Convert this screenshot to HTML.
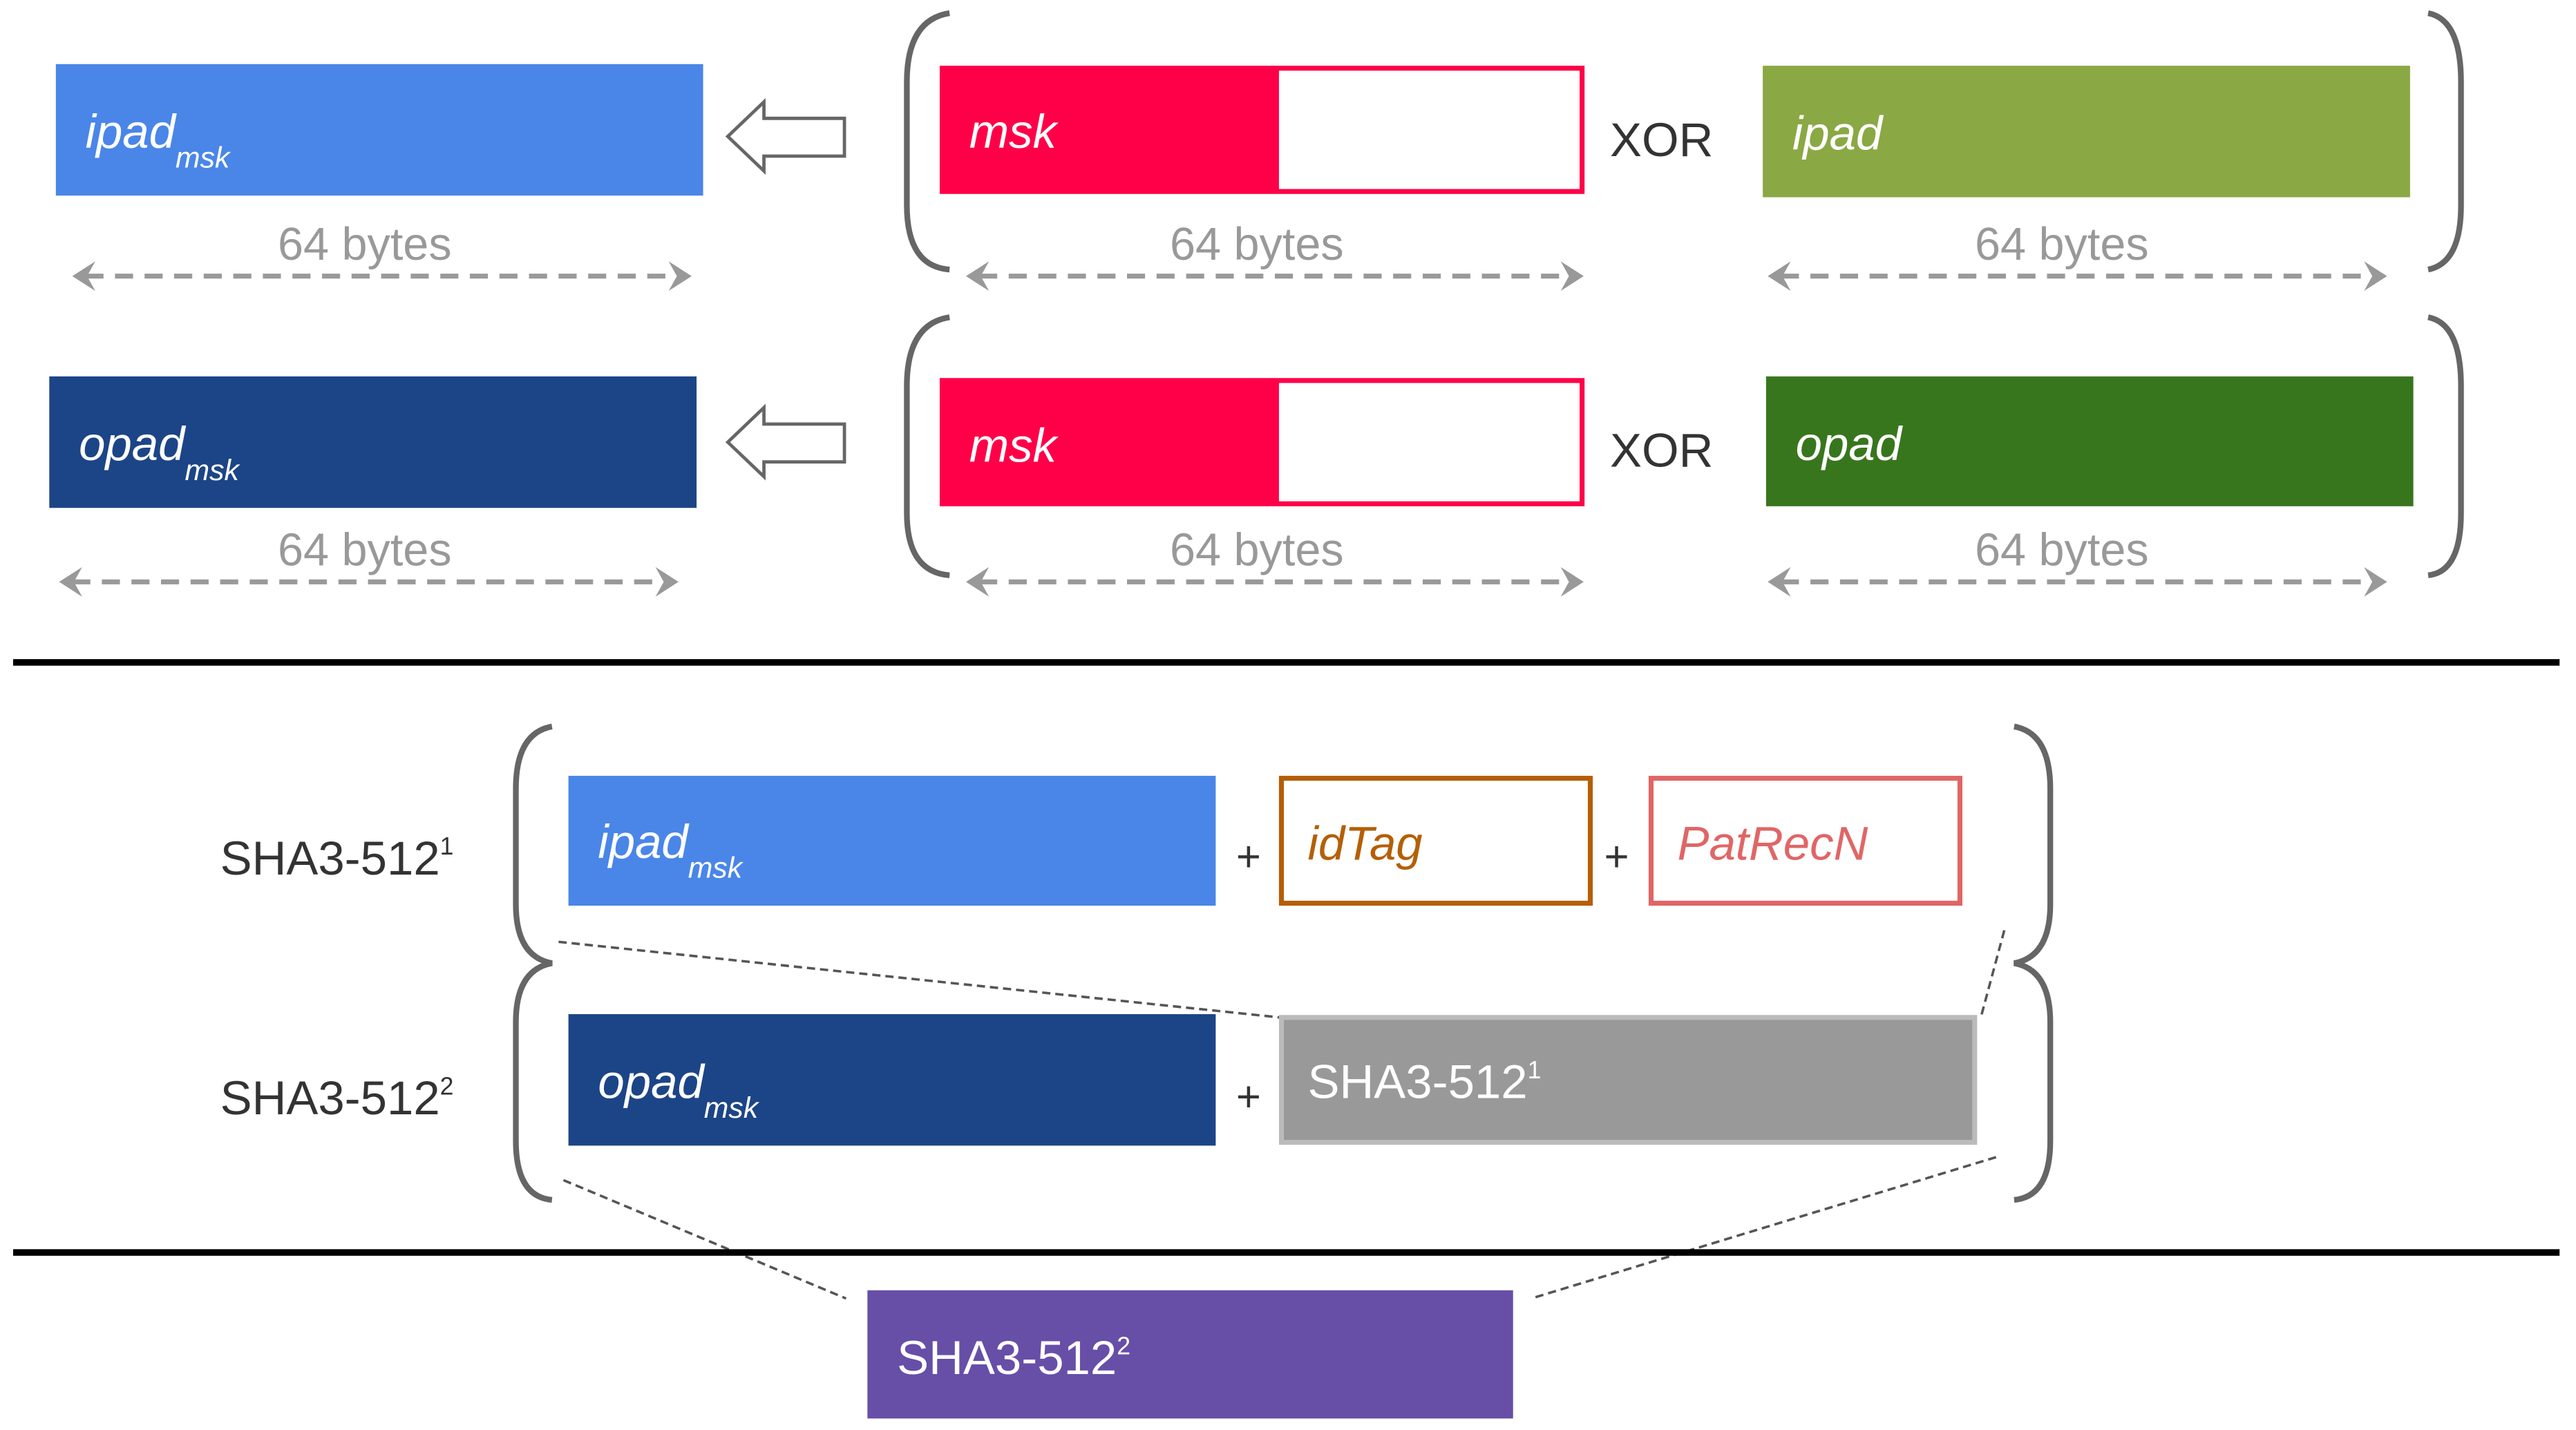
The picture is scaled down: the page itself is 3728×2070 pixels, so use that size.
<!DOCTYPE html>
<html><head><meta charset="utf-8"><style>
html,body{margin:0;padding:0;background:#fff;}
svg{display:block;}
text{font-family:"Liberation Sans",Arial,sans-serif;}
</style></head><body>
<svg width="3728" height="2070" viewBox="0 0 1568 870" preserveAspectRatio="none" xmlns="http://www.w3.org/2000/svg">
<defs>
<g id="ah"><polygon points="0,0 -14,-9 -9,0 -14,9" fill="#999"/></g>
</defs>
<!-- Row 1 -->
<rect x="34" y="39" width="394" height="80" fill="#4a86e8"/>
<text x="52" y="90" font-size="29" font-style="italic" fill="#fff">ipad<tspan font-size="18" dy="12">msk</tspan></text>
<polygon points="443,83 465,62 465,72 514,72 514,95 465,95 465,104" fill="#fff" stroke="#666" stroke-width="2"/>
<path d="M578,8 Q552,12 552,50 L552,125 Q552,162 578,164" fill="none" stroke="#666" stroke-width="3.5"/>
<rect x="572" y="40" width="204" height="78" fill="#ff0048"/>
<rect x="777" y="41.5" width="186" height="75" fill="#fff" stroke="#ff0048" stroke-width="3"/>
<text x="590" y="90" font-size="29" font-style="italic" fill="#fff">msk</text>
<text x="980" y="95" font-size="29" fill="#333">XOR</text>
<rect x="1073" y="40" width="394" height="80" fill="#8aa844"/>
<text x="1091" y="91" font-size="29" font-style="italic" fill="#fff">ipad</text>
<path d="M1478,8 Q1498,12 1498,50 L1498,125 Q1498,160 1478,164" fill="none" stroke="#666" stroke-width="3.5"/>
<g font-size="28" fill="#999" text-anchor="middle">
<text x="222" y="158">64 bytes</text>
<text x="765" y="158">64 bytes</text>
<text x="1255" y="158">64 bytes</text>
<text x="222" y="344">64 bytes</text>
<text x="765" y="344">64 bytes</text>
<text x="1255" y="344">64 bytes</text>
</g>
<g stroke="#999" stroke-width="3" stroke-dasharray="11,7">
<line x1="52" y1="168" x2="414" y2="168"/>
<line x1="596" y1="168" x2="956" y2="168"/>
<line x1="1084" y1="168" x2="1446" y2="168"/>
<line x1="44" y1="354" x2="406" y2="354"/>
<line x1="596" y1="354" x2="956" y2="354"/>
<line x1="1084" y1="354" x2="1446" y2="354"/>
</g>
<use href="#ah" transform="translate(44,168) rotate(180)"/>
<use href="#ah" transform="translate(421,168)"/>
<use href="#ah" transform="translate(588,168) rotate(180)"/>
<use href="#ah" transform="translate(964,168)"/>
<use href="#ah" transform="translate(1076,168) rotate(180)"/>
<use href="#ah" transform="translate(1453,168)"/>
<use href="#ah" transform="translate(36,354) rotate(180)"/>
<use href="#ah" transform="translate(413,354)"/>
<use href="#ah" transform="translate(588,354) rotate(180)"/>
<use href="#ah" transform="translate(964,354)"/>
<use href="#ah" transform="translate(1076,354) rotate(180)"/>
<use href="#ah" transform="translate(1453,354)"/>
<!-- Row 2 -->
<rect x="30" y="229" width="394" height="80" fill="#1c4587"/>
<text x="48" y="280" font-size="29" font-style="italic" fill="#fff">opad<tspan font-size="18" dy="12">msk</tspan></text>
<polygon points="443,269 465,248 465,258 514,258 514,281 465,281 465,290" fill="#fff" stroke="#666" stroke-width="2"/>
<path d="M578,193 Q552,197 552,235 L552,312 Q552,348 578,350" fill="none" stroke="#666" stroke-width="3.5"/>
<rect x="572" y="230" width="204" height="78" fill="#ff0048"/>
<rect x="777" y="231.5" width="186" height="75" fill="#fff" stroke="#ff0048" stroke-width="3"/>
<text x="590" y="281" font-size="29" font-style="italic" fill="#fff">msk</text>
<text x="980" y="284" font-size="29" fill="#333">XOR</text>
<rect x="1075" y="229" width="394" height="79" fill="#38761d"/>
<text x="1093" y="280" font-size="29" font-style="italic" fill="#fff">opad</text>
<path d="M1478,193 Q1498,197 1498,235 L1498,312 Q1498,348 1478,350" fill="none" stroke="#666" stroke-width="3.5"/>
<rect x="8" y="401" width="1550" height="4" fill="#000"/>
<!-- Bottom -->
<text x="134" y="532" font-size="29" fill="#333">SHA3-512<tspan font-size="15" dy="-12">1</tspan></text>
<text x="134" y="678" font-size="29" fill="#333">SHA3-512<tspan font-size="15" dy="-12">2</tspan></text>
<path d="M336,442 Q314,446 314,480 L314,550 Q314,582 336,586 Q314,590 314,622 L314,694 Q314,728 336,730" fill="none" stroke="#666" stroke-width="3.5"/>
<path d="M1226,442 Q1248,446 1248,480 L1248,550 Q1248,582 1226,586 Q1248,590 1248,622 L1248,694 Q1248,728 1226,730" fill="none" stroke="#666" stroke-width="3.5"/>
<rect x="346" y="472" width="394" height="79" fill="#4a86e8"/>
<text x="364" y="522" font-size="29" font-style="italic" fill="#fff">ipad<tspan font-size="18" dy="12">msk</tspan></text>
<text x="760" y="530" font-size="26" fill="#333" text-anchor="middle">+</text>
<rect x="780" y="473.5" width="188" height="76" fill="#fff" stroke="#b45f06" stroke-width="3"/>
<text x="796" y="523" font-size="29" font-style="italic" fill="#b45f06">idTag</text>
<text x="984" y="530" font-size="26" fill="#333" text-anchor="middle">+</text>
<rect x="1005" y="473.5" width="188" height="76" fill="#fff" stroke="#e06666" stroke-width="3"/>
<text x="1021" y="523" font-size="29" font-style="italic" fill="#e06666">PatRecN</text>
<g stroke="#555" stroke-width="1.5" stroke-dasharray="5,3" fill="none">
<line x1="340" y1="573" x2="779" y2="619"/>
<line x1="1220" y1="566" x2="1206" y2="618"/>
<line x1="343" y1="718" x2="515" y2="790"/>
<line x1="1215" y1="704" x2="932" y2="790"/>
</g>
<rect x="346" y="617" width="394" height="80" fill="#1c4587"/>
<text x="364" y="668" font-size="29" font-style="italic" fill="#fff">opad<tspan font-size="18" dy="12">msk</tspan></text>
<text x="760" y="676" font-size="26" fill="#333" text-anchor="middle">+</text>
<rect x="780" y="619" width="422" height="76" fill="#999" stroke="#bbb" stroke-width="3"/>
<text x="796" y="668" font-size="29" fill="#fff">SHA3-512<tspan font-size="15" dy="-12">1</tspan></text>
<rect x="8" y="760" width="1550" height="4" fill="#000"/>
<rect x="528" y="785" width="393" height="78" fill="#674ea7"/>
<text x="546" y="836" font-size="29" fill="#fff">SHA3-512<tspan font-size="15" dy="-12">2</tspan></text>
</svg>
</body></html>
